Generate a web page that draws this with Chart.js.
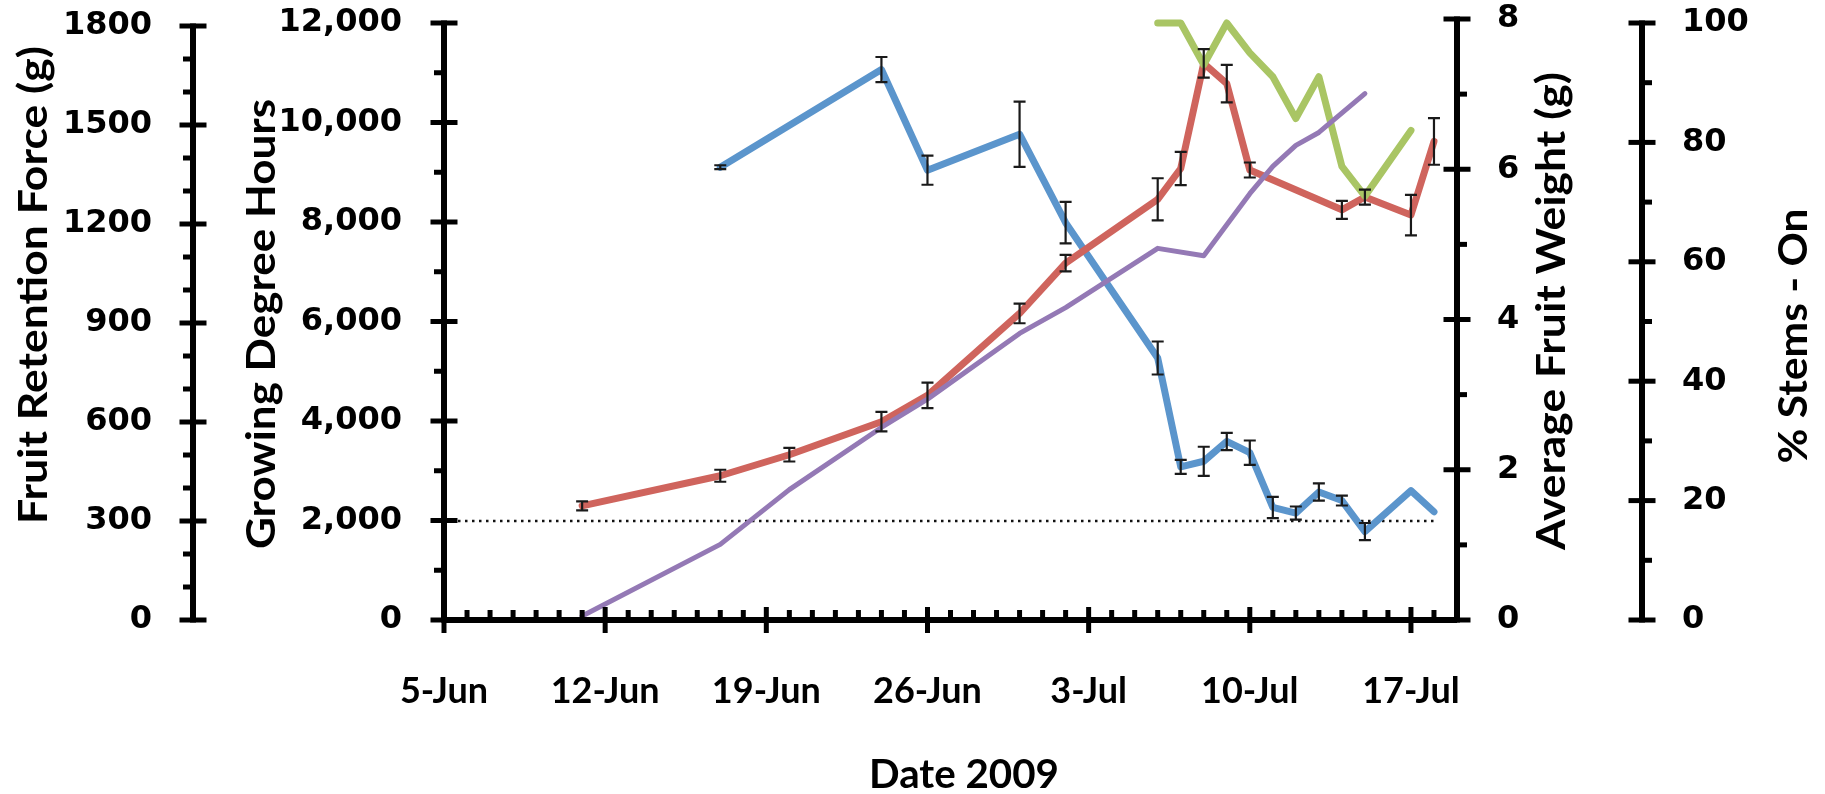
<!DOCTYPE html>
<html>
<head>
<meta charset="utf-8">
<script src="https://cdn.jsdelivr.net/npm/chart.js"></script>
<style>
  html, body { margin: 0; padding: 0; background: #fff; }
  canvas { display: block; }
</style>
</head>
<body>
<canvas id="c" width="1825" height="794"></canvas>
<script>
// ---------------- data ----------------
const xTickDates  = ['06-05', '06-12', '06-19', '06-26', '07-03', '07-10', '07-17'];
const xTickLabels = ['5-Jun', '12-Jun', '19-Jun', '26-Jun', '3-Jul', '10-Jul', '17-Jul'];

// Fruit retention force (g) - blue, left outer axis
const frfDates  = ['06-17', '06-24', '06-26', '06-30', '07-02', '07-06', '07-07', '07-08', '07-09', '07-10', '07-11', '07-12', '07-13', '07-14', '07-15', '07-17', '07-18'];
const frfValues = [1372, 1668, 1363, 1472, 1204, 794, 464, 481, 541, 507, 341, 324, 388, 362, 268, 392, 328];
const frfErrors = [6, 38, 44, 99, 63, 50, 21, 44, 26, 37, 32, 20, 26, 15, 26, 0, 0];

// Average fruit weight (g) - red, right inner axis
const weightDates  = ['06-11', '06-17', '06-20', '06-24', '06-26', '06-30', '07-02', '07-06', '07-07', '07-08', '07-09', '07-10', '07-14', '07-15', '07-17', '07-18'];
const weightValues = [1.52, 1.92, 2.20, 2.64, 2.99, 4.08, 4.75, 5.60, 6.01, 7.41, 7.14, 5.99, 5.46, 5.63, 5.39, 6.37];
const weightErrors = [0.06, 0.08, 0.09, 0.13, 0.17, 0.13, 0.11, 0.28, 0.22, 0.19, 0.25, 0.10, 0.12, 0.10, 0.27, 0.31];

// Growing degree hours - purple, left inner axis
const gdhDates  = ['06-11', '06-17', '06-20', '06-24', '06-26', '06-30', '07-02', '07-06', '07-08', '07-10', '07-11', '07-12', '07-13', '07-15'];
const gdhValues = [80, 1520, 2620, 3870, 4440, 5760, 6280, 7470, 7320, 8570, 9120, 9540, 9800, 10580];

// % stems on - green, right outer axis
const stemsDates  = ['07-06', '07-07', '07-08', '07-09', '07-10', '07-11', '07-12', '07-13', '07-14', '07-15', '07-17'];
const stemsValues = [100, 100, 93, 100, 95, 91, 84, 91, 76, 71, 82];

// dotted threshold (300 g retention force)
const thresholdDates  = ['06-05', '07-18'];
const thresholdValues = [300, 300];

// axis tick values
const frfTicks    = [0, 300, 600, 900, 1200, 1500, 1800];
const gdhTicks    = [0, 2000, 4000, 6000, 8000, 10000, 12000];
const weightTicks = [0, 2, 4, 6, 8];
const stemsTicks  = [0, 20, 40, 60, 80, 100];

// ---------------- helpers ----------------
const START = Date.UTC(2009, 5, 5);
function dayOf(md) {
  return (Date.UTC(2009, +md.slice(0, 2) - 1, +md.slice(3, 5)) - START) / 86400000;
}
function pts(dates, vals) { return dates.map((d, i) => ({ x: dayOf(d), y: vals[i] })); }

const AREA_TOP = 19, AREA_BOTTOM = 620;
function stretchedMax(nominal, topPx) {
  return nominal * (AREA_BOTTOM - AREA_TOP) / (AREA_BOTTOM - topPx);
}
const AX = {
  frf:    { top: 26, max: 1800,  major: 300,  minor: 100,  side: 'left'  },
  gdh:    { top: 23, max: 12000, major: 2000, minor: 1000, side: 'left'  },
  weight: { top: 19, max: 8,     major: 2,    minor: 1,    side: 'right' },
  stems:  { top: 23, max: 100,   major: 20,   minor: 10,   side: 'right' }
};

const tickFont = { family: 'DejaVu Sans', weight: 'bold', size: 32 };
function yScale(id, pos, weight, width, tickVals, fmt, padding) {
  const a = AX[id];
  return {
    type: 'linear', position: pos, weight: weight,
    min: 0, max: stretchedMax(a.max, a.top),
    grid: { display: false, drawTicks: false },
    border: { display: false },
    ticks: { padding: padding, color: '#000', font: tickFont, autoSkip: false, callback: v => fmt(v) },
    afterBuildTicks: s => { s.ticks = tickVals.map(v => ({ value: v })); },
    afterFit: s => { s.width = width; s.paddingTop = 0; s.paddingBottom = 0; }
  };
}

const BLUE = '#5b95cc', RED = '#cf645d', PURPLE = '#9479b5', GREEN = '#a9c564';

// ---------------- custom drawing: axes, ticks, error bars, titles ----------------
const decorPlugin = {
  id: 'decor',
  beforeDraw(chart) {
    const ctx = chart.ctx;
    ctx.save();
    ctx.fillStyle = '#fff';
    ctx.fillRect(0, 0, chart.width, chart.height);
    ctx.restore();
  },
  afterDatasetsDraw(chart) {
    const ctx = chart.ctx;
    ctx.save();
    ctx.strokeStyle = '#1a1a1a';
    ctx.lineWidth = 2.2;
    chart.data.datasets.forEach((ds, i) => {
      if (!ds.errors) return;
      const meta = chart.getDatasetMeta(i);
      const ys = chart.scales[ds.yAxisID];
      ds.data.forEach((p, j) => {
        const e = ds.errors[j];
        if (!e) return;
        const x = meta.data[j].x;
        const y1 = ys.getPixelForValue(p.y + e), y2 = ys.getPixelForValue(p.y - e);
        ctx.beginPath();
        ctx.moveTo(x, y1); ctx.lineTo(x, y2);
        ctx.moveTo(x - 6, y1); ctx.lineTo(x + 6, y1);
        ctx.moveTo(x - 6, y2); ctx.lineTo(x + 6, y2);
        ctx.stroke();
      });
    });
    ctx.restore();
  },
  afterDraw(chart) {
    const ctx = chart.ctx;
    ctx.save();
    ctx.strokeStyle = '#000';
    ctx.lineCap = 'butt';
    const line = (x1, y1, x2, y2, w) => {
      ctx.lineWidth = w; ctx.beginPath(); ctx.moveTo(x1, y1); ctx.lineTo(x2, y2); ctx.stroke();
    };
    // y axes
    Object.keys(AX).forEach(id => {
      const a = AX[id], s = chart.scales[id];
      const lx = a.side === 'left' ? s.right : s.left;
      const yT = s.getPixelForValue(a.max), yB = s.getPixelForValue(0);
      line(lx, yT - 2.5, lx, yB + 2.5, 6);
      const n = Math.round(a.max / a.minor);
      for (let k = 0; k <= n; k++) {
        const v = k * a.minor;
        const y = s.getPixelForValue(v);
        if (Math.abs(v / a.major - Math.round(v / a.major)) < 1e-9) {
          line(lx - 13.5, y, lx + 13.5, y, 5);
        } else if (a.side === 'left') {
          line(lx - 10, y, lx, y, 5);
        } else {
          line(lx, y, lx + 10, y, 5);
        }
      }
    });
    // x axis
    const xs = chart.scales.x, yb = chart.chartArea.bottom;
    line(xs.left, yb, xs.right, yb, 6);
    for (let d = 0; d <= xs.max; d++) {
      const x = xs.getPixelForValue(d);
      if (d % 7 === 0) line(x, yb - 13, x, yb + 13, 5);
      else line(x, yb - 10, x, yb, 5);
    }
    // titles
    ctx.fillStyle = '#000';
    chart.options.plugins.decor.titles.forEach(t => {
      ctx.save();
      ctx.font = 'bold ' + t.size + 'px Lato';
      const w = ctx.measureText(t.text).width;
      const sx = t.len ? t.len / w : 1;
      ctx.translate(t.x, t.y);
      ctx.rotate(t.rot * Math.PI / 180);
      ctx.scale(sx, 1);
      ctx.textAlign = 'center';
      ctx.textBaseline = 'alphabetic';
      ctx.fillText(t.text, 0, 0);
      ctx.restore();
    });
    ctx.restore();
  }
};

const lineDs = (label, data, axis, color, width, order, extra) => Object.assign({
  type: 'line', label: label, data: data, yAxisID: axis, xAxisID: 'x',
  borderColor: color, backgroundColor: color, borderWidth: width,
  pointRadius: 0, pointHoverRadius: 0, tension: 0, fill: false,
  borderJoinStyle: 'round', borderCapStyle: 'round', clip: false, order: order
}, extra || {});

new Chart(document.getElementById('c'), {
  type: 'line',
  data: {
    datasets: [
      lineDs('Growing Degree Hours', pts(gdhDates, gdhValues), 'gdh', PURPLE, 5, 0),
      lineDs('% Stems - On', pts(stemsDates, stemsValues), 'stems', GREEN, 7, 1),
      lineDs('Average Fruit Weight (g)', pts(weightDates, weightValues), 'weight', RED, 7, 2, { errors: weightErrors }),
      lineDs('Fruit Retention Force (g)', pts(frfDates, frfValues), 'frf', BLUE, 7, 3, { errors: frfErrors }),
      lineDs('Threshold', pts(thresholdDates, thresholdValues), 'frf', '#111', 2.5, 4, { borderDash: [2.5, 4.5], borderCapStyle: 'butt' })
    ]
  },
  options: {
    responsive: false,
    animation: false,
    devicePixelRatio: 1,
    events: [],
    layout: { padding: { top: AREA_TOP, left: 0, right: 0, bottom: 0 } },
    plugins: {
      legend: { display: false },
      tooltip: { enabled: false },
      decor: {
        titles: [
          { text: 'Fruit Retention Force (g)', x: 47,   y: 285, rot: -90, size: 40, len: 478 },
          { text: 'Growing Degree Hours',      x: 275,  y: 324, rot: -90, size: 40, len: 450 },
          { text: 'Average Fruit Weight (g)',  x: 1565, y: 311, rot: -90, size: 40, len: 478 },
          { text: '% Stems - On',              x: 1807, y: 336, rot: -90, size: 40, len: 255 },
          { text: 'Date 2009',                 x: 964,  y: 788, rot: 0,   size: 40, len: 190 }
        ]
      }
    },
    scales: {
      x: {
        type: 'linear', position: 'bottom', min: 0, max: 44,
        grid: { display: false, drawTicks: false },
        border: { display: false },
        ticks: {
          padding: 50, color: '#000', autoSkip: false, maxRotation: 0, minRotation: 0,
          font: { family: 'Lato', weight: 'bold', size: 36 },
          callback: v => { const i = xTickDates.findIndex(d => dayOf(d) === v); return i >= 0 ? xTickLabels[i] : ''; }
        },
        afterBuildTicks: s => { s.ticks = xTickDates.map(d => ({ value: dayOf(d) })); },
        afterFit: s => { s.height = 794 - AREA_BOTTOM; s.paddingLeft = 0; s.paddingRight = 0; }
      },
      frf:    yScale('frf',    'left',  1, 193, frfTicks,    v => String(v), 41),
      gdh:    yScale('gdh',    'left',  0, 251, gdhTicks,    v => v.toLocaleString('en-US'), 42),
      weight: yScale('weight', 'right', 0, 185, weightTicks, v => String(v), 40),
      stems:  yScale('stems',  'right', 1, 183, stemsTicks,  v => String(v), 40)
    }
  },
  plugins: [decorPlugin]
});
</script>
</body>
</html>
